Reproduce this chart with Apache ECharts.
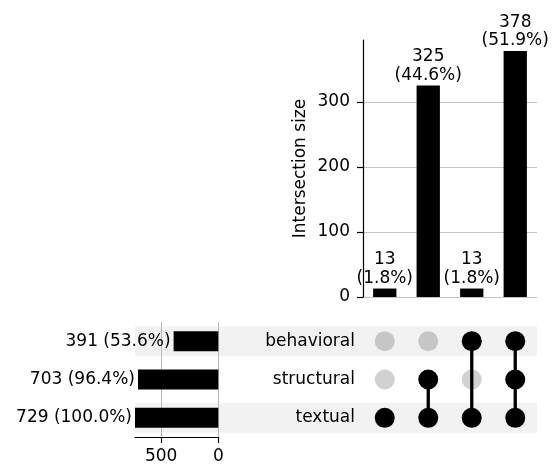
<!DOCTYPE html>
<html><head><meta charset="utf-8">
<script src="https://cdn.jsdelivr.net/npm/echarts@6/dist/echarts.min.js"></script>
<style>html,body{margin:0;padding:0;background:#fff}#c{width:558px;height:466px}</style>
</head><body><div id="c"></div>
<script>
// ---- data ----
const sets = ['behavioral', 'structural', 'textual'];
const setSizes = [391, 703, 729];
const intersections = ['textual', 'structural+textual', 'behavioral+textual', 'behavioral+structural+textual'];
const intersectionSizes = [13, 325, 13, 378];
// membership per intersection, ordered like `sets`
const membership = [
  [0, 0, 1],
  [0, 1, 1],
  [1, 0, 1],
  [1, 1, 1]
];
const topTicks = [0, 100, 200, 300];
const sideTicks = [0, 500];
const shadedRows = [1, 0, 1];
const total = intersectionSizes.reduce((a, b) => a + b, 0);

const FONT = 'DejaVu Sans';
const FS = 17;
const pct = v => (v / total * 100).toFixed(1) + '%';

// dots and connectors
const dots = [];
const connectors = [];
membership.forEach((m, i) => {
  const act = [];
  m.forEach((on, j) => {
    dots.push({ value: [i, j], itemStyle: { color: on ? '#000' : 'rgba(0,0,0,0.18)', opacity: 1 } });
    if (on) act.push(j);
  });
  if (act.length > 1) {
    connectors.push({
      type: 'line', xAxisIndex: 2, yAxisIndex: 2, z: 4, symbol: 'none', silent: true,
      lineStyle: { color: '#000', width: 3.3, opacity: 1 },
      data: [[i, Math.min(...act)], [i, Math.max(...act)]]
    });
  }
});

const hidden = { axisLine: { show: false }, axisTick: { show: false }, axisLabel: { show: false }, splitLine: { show: false } };

const option = {
  animation: false,
  backgroundColor: '#fff',
  textStyle: { fontFamily: FONT },
  grid: [
    { left: 363, top: 40, width: 174, height: 257 },
    { left: 135, top: 322, width: 83.3, height: 115 },
    { left: 363, top: 322, width: 174, height: 115 },
    { left: 135, top: 322, width: 402, height: 115 }
  ],
  xAxis: [
    Object.assign({ type: 'category', gridIndex: 0, data: intersections }, hidden),
    {
      type: 'value', gridIndex: 1, inverse: true, min: 0, max: 729,
      axisLine: { show: true, lineStyle: { color: '#000', width: 1.2 } },
      axisTick: { show: true, length: 6, lineStyle: { color: '#000', width: 1.2 }, customValues: sideTicks },
      axisLabel: { show: true, margin: 11, fontSize: FS, color: '#000', fontFamily: FONT, customValues: sideTicks },
      splitLine: { show: true, lineStyle: { color: ['#b8b8b8', '#b8b8b8', 'rgba(0,0,0,0)'], width: 1 } }
    },
    Object.assign({ type: 'category', gridIndex: 2, data: intersections }, hidden),
    Object.assign({ type: 'value', gridIndex: 3, min: 0, max: 1 }, hidden)
  ],
  yAxis: [
    {
      type: 'value', gridIndex: 0, min: 0, max: 395, interval: 100,
      name: 'Intersection size', nameLocation: 'middle', nameGap: 54, nameRotate: 90,
      nameTextStyle: { fontSize: FS, color: '#000', fontFamily: FONT },
      axisLine: { show: true, lineStyle: { color: '#000', width: 1.2 } },
      axisTick: { show: true, length: 6, lineStyle: { color: '#000', width: 1.2 }, customValues: topTicks },
      axisLabel: { show: true, margin: 13, fontSize: FS, color: '#000', fontFamily: FONT, customValues: topTicks },
      splitLine: { show: true, lineStyle: { color: ['#c4c4c4', '#c4c4c4', '#c4c4c4', '#c4c4c4', 'rgba(0,0,0,0)'], width: 1 } }
    },
    Object.assign({ type: 'category', gridIndex: 1, data: sets, inverse: true }, hidden),
    {
      type: 'category', gridIndex: 2, data: sets, inverse: true,
      axisLine: { show: false }, axisTick: { show: false }, splitLine: { show: false },
      axisLabel: { show: true, margin: 8, fontSize: FS, color: '#000', fontFamily: FONT }
    },
    Object.assign({ type: 'category', gridIndex: 3, data: sets, inverse: true }, hidden)
  ],
  series: [
    {
      type: 'bar', xAxisIndex: 3, yAxisIndex: 3, z: -1, silent: true,
      barWidth: 30, itemStyle: { color: 'rgba(0,0,0,0.05)' },
      data: shadedRows
    },
    {
      type: 'bar', xAxisIndex: 0, yAxisIndex: 0, barWidth: 23.3,
      itemStyle: { color: '#000' },
      label: {
        show: true, position: 'top', distance: 1, fontSize: FS, lineHeight: 18.5,
        color: '#000', fontFamily: FONT, align: 'center',
        formatter: p => p.value + '\n(' + pct(p.value) + ')'
      },
      data: intersectionSizes
    },
    {
      type: 'bar', xAxisIndex: 1, yAxisIndex: 1, barWidth: 20,
      itemStyle: { color: '#000' },
      label: {
        show: true, position: 'left', distance: 3, fontSize: FS,
        color: '#000', fontFamily: FONT,
        formatter: p => p.value + ' (' + pct(p.value) + ')'
      },
      data: setSizes
    },
    {
      type: 'scatter', xAxisIndex: 2, yAxisIndex: 2, z: 2, symbolSize: 20, silent: true,
      itemStyle: { opacity: 1 },
      data: dots
    }
  ].concat(connectors)
};

echarts.init(document.getElementById('c'), null, { renderer: 'canvas' }).setOption(option);
</script>
</body></html>
